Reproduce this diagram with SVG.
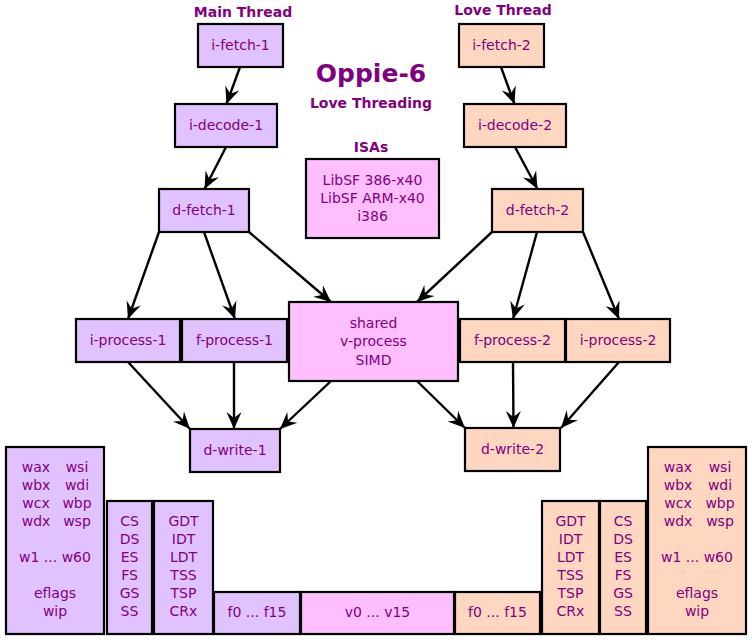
<svg xmlns="http://www.w3.org/2000/svg" width="752" height="640" viewBox="0 0 752 640">
<style>
text{font-family:"DejaVu Sans",sans-serif;fill:#800080;font-size:14px;text-anchor:middle}
.h{font-weight:bold}
.t{font-weight:bold;font-size:25px}
.n rect{stroke:#000;stroke-width:2.2}
.a{fill:#e0c2fe}
.b{fill:#ffd6bf}
.c{fill:#ffbfff}
.e line{stroke:#000;stroke-width:2.4;marker-end:url(#ar)}
</style>
<defs>
<marker id="ar" markerUnits="userSpaceOnUse" viewBox="-18 -9 19 18" refX="0" refY="0" markerWidth="19" markerHeight="18" orient="auto">
<path d="M0,0 L-17,-7.5 L-11,0 L-17,7.5 Z" fill="#000"/>
</marker>
</defs>
<g id="labels">
<text class="h" x="243" y="17">Main Thread</text>
<text class="h" x="503" y="15">Love Thread</text>
<text class="t" x="371" y="82">Oppie-6</text>
<text class="h" x="371" y="108">Love Threading</text>
<text class="h" x="371" y="152">ISAs</text>
</g>
<g class="e" id="connectors">
<line x1="240" y1="67" x2="226.5" y2="104"/>
<line x1="226" y1="147" x2="204.5" y2="189"/>
<line x1="159" y1="232" x2="128" y2="319"/>
<line x1="204" y1="232" x2="235" y2="319"/>
<line x1="249" y1="232" x2="331" y2="302"/>
<line x1="501" y1="67" x2="514.5" y2="104"/>
<line x1="515" y1="147" x2="537.5" y2="189"/>
<line x1="492" y1="232" x2="417" y2="302"/>
<line x1="537" y1="232" x2="513" y2="319"/>
<line x1="583" y1="232" x2="619" y2="319"/>
<line x1="128" y1="362" x2="190" y2="429"/>
<line x1="234" y1="362" x2="234" y2="429"/>
<line x1="331" y1="381" x2="280" y2="429"/>
<line x1="417" y1="381" x2="465" y2="428"/>
<line x1="513" y1="362" x2="513.5" y2="428"/>
<line x1="619" y1="362" x2="561" y2="428"/>
</g>
<g class="n">
<g id="i-fetch-1"><rect class="a" x="198" y="24" width="85" height="43"/><text x="240.5" y="50">i-fetch-1</text></g>
<g id="i-decode-1"><rect class="a" x="175" y="104" width="102" height="43"/><text x="226" y="130">i-decode-1</text></g>
<g id="d-fetch-1"><rect class="a" x="159" y="189" width="90" height="43"/><text x="204" y="215">d-fetch-1</text></g>
<g id="i-fetch-2"><rect class="b" x="459" y="24" width="85" height="43"/><text x="501.5" y="50">i-fetch-2</text></g>
<g id="i-decode-2"><rect class="b" x="464" y="104" width="102" height="43"/><text x="515" y="130">i-decode-2</text></g>
<g id="d-fetch-2"><rect class="b" x="492" y="189" width="91" height="43"/><text x="537.5" y="215">d-fetch-2</text></g>
<g id="isas"><rect class="c" x="306" y="159" width="133" height="79"/><text x="372.5" y="185">LibSF 386-x40</text><text x="372.5" y="203">LibSF ARM-x40</text><text x="372.5" y="221">i386</text></g>
<g id="i-process-1"><rect class="a" x="76" y="319" width="104" height="43"/><text x="128" y="345">i-process-1</text></g>
<g id="f-process-1"><rect class="a" x="182" y="319" width="105" height="43"/><text x="234.5" y="345">f-process-1</text></g>
<g id="shared"><rect class="c" x="289" y="302" width="169" height="79"/><text x="373.5" y="328">shared</text><text x="373.5" y="346">v-process</text><text x="373.5" y="365">SIMD</text></g>
<g id="f-process-2"><rect class="b" x="460" y="319" width="105" height="43"/><text x="512.5" y="345">f-process-2</text></g>
<g id="i-process-2"><rect class="b" x="566" y="319" width="104" height="43"/><text x="618" y="345">i-process-2</text></g>
<g id="d-write-1"><rect class="a" x="190" y="429" width="90" height="43"/><text x="235" y="455">d-write-1</text></g>
<g id="d-write-2"><rect class="b" x="465" y="428" width="95" height="43"/><text x="512.5" y="454">d-write-2</text></g>
<g id="regs-1"><rect class="a" x="6" y="447" width="98" height="187"/>
<text x="36" y="472">wax</text><text x="77" y="472">wsi</text>
<text x="36" y="490">wbx</text><text x="77" y="490">wdi</text>
<text x="36" y="508">wcx</text><text x="77" y="508">wbp</text>
<text x="36" y="526">wdx</text><text x="77" y="526">wsp</text>
<text x="55" y="562">w1 ... w60</text>
<text x="55" y="598">eflags</text><text x="55" y="616">wip</text></g>
<g id="seg-1"><rect class="a" x="107" y="501" width="45" height="133"/>
<text x="129.5" y="526">CS</text><text x="129.5" y="544">DS</text><text x="129.5" y="562">ES</text><text x="129.5" y="580">FS</text><text x="129.5" y="598">GS</text><text x="129.5" y="616">SS</text></g>
<g id="sys-1"><rect class="a" x="154" y="501" width="59" height="133"/>
<text x="183.5" y="526">GDT</text><text x="183.5" y="544">IDT</text><text x="183.5" y="562">LDT</text><text x="183.5" y="580">TSS</text><text x="183.5" y="598">TSP</text><text x="183.5" y="616">CRx</text></g>
<g id="fpu-1"><rect class="a" x="214" y="592" width="86" height="42"/><text x="257" y="617">f0 ... f15</text></g>
<g id="vec"><rect class="c" x="301" y="592" width="153" height="42"/><text x="377.5" y="617">v0 ... v15</text></g>
<g id="fpu-2"><rect class="b" x="455" y="592" width="85" height="42"/><text x="497.5" y="617">f0 ... f15</text></g>
<g id="sys-2"><rect class="b" x="542" y="501" width="57" height="133"/>
<text x="570.5" y="526">GDT</text><text x="570.5" y="544">IDT</text><text x="570.5" y="562">LDT</text><text x="570.5" y="580">TSS</text><text x="570.5" y="598">TSP</text><text x="570.5" y="616">CRx</text></g>
<g id="seg-2"><rect class="b" x="600" y="501" width="46" height="133"/>
<text x="623" y="526">CS</text><text x="623" y="544">DS</text><text x="623" y="562">ES</text><text x="623" y="580">FS</text><text x="623" y="598">GS</text><text x="623" y="616">SS</text></g>
<g id="regs-2"><rect class="b" x="648" y="447" width="98" height="187"/>
<text x="678" y="472">wax</text><text x="720" y="472">wsi</text>
<text x="678" y="490">wbx</text><text x="720" y="490">wdi</text>
<text x="678" y="508">wcx</text><text x="720" y="508">wbp</text>
<text x="678" y="526">wdx</text><text x="720" y="526">wsp</text>
<text x="697" y="562">w1 ... w60</text>
<text x="697" y="598">eflags</text><text x="697" y="616">wip</text></g>
</g>
</svg>
